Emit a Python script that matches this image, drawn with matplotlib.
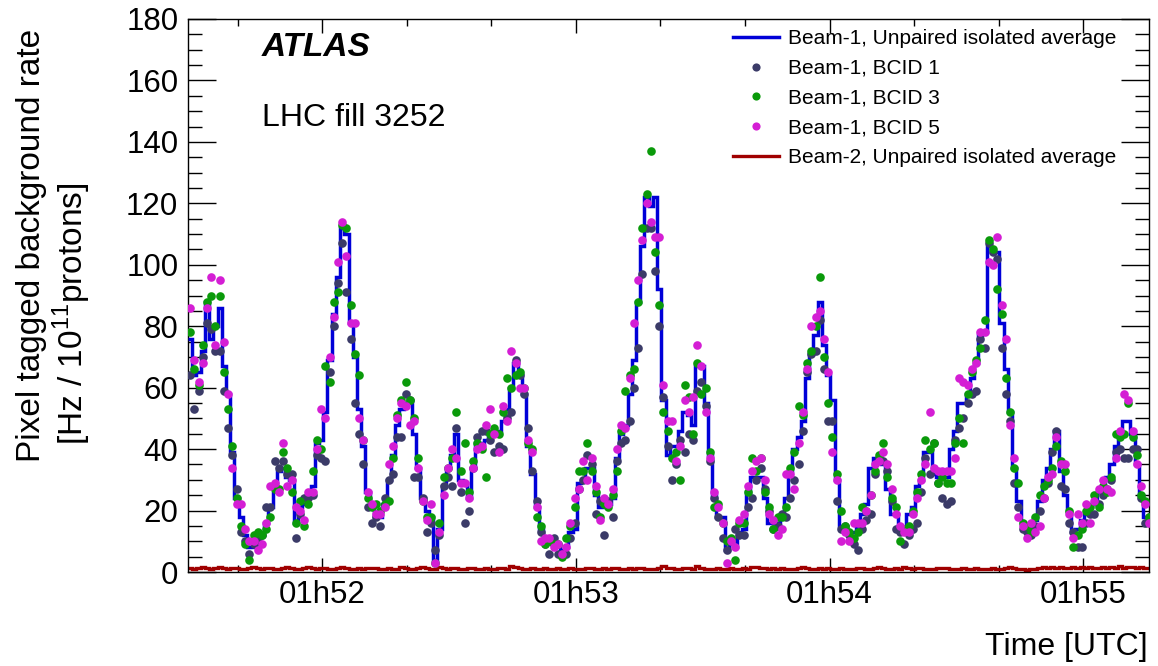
import numpy as np
import matplotlib
matplotlib.use('Agg')
import matplotlib.pyplot as plt
from matplotlib.ticker import MultipleLocator

plt.rcParams['font.family'] = ['Liberation Sans', 'DejaVu Sans']
plt.rcParams['mathtext.fontset'] = 'custom'
plt.rcParams['mathtext.rm'] = 'Liberation Sans'

# time of first bin edge, seconds after 01:50:00, 1 s bins
t_start = 88.2
x_range = (88.2, 315.6)
major_ticks = [120, 180, 240, 300]
tick_labels = ['01h52', '01h53', '01h54', '01h55']

# Beam-1, unpaired isolated average (step histogram)
beam1_avg = [
    76, 64, 65, 72, 88, 76, 80, 86, 67, 58,
    39, 24, 18, 12, 8, 8, 9, 12, 16, 21,
    27, 33, 34, 31, 30, 16, 21, 22, 25, 28,
    42, 43, 52, 69, 84, 96, 112, 110, 81, 70,
    53, 41, 26, 21, 18, 18, 22, 30, 38, 48,
    53, 55, 55, 45, 34, 24, 20, 18, 4, 14,
    28, 34, 38, 45, 30, 29, 24, 34, 42, 42,
    43, 44, 45, 46, 49, 53, 60, 68, 64, 58,
    41, 32, 21, 14, 10, 10, 9, 9, 7, 8,
    13, 14, 29, 30, 34, 34, 25, 21, 21, 22,
    24, 37, 45, 48, 58, 69, 88, 106, 122, 119,
    122, 92, 56, 38, 41, 41, 46, 52, 51, 48,
    67, 67, 55, 38, 25, 18, 18, 7, 11, 8,
    13, 14, 26, 31, 31, 31, 24, 16, 16, 16,
    19, 24, 33, 40, 44, 49, 63, 71, 77, 88,
    74, 64, 56, 30, 15, 15, 13, 13, 15, 19,
    22, 34, 37, 37, 35, 27, 19, 19, 14, 13,
    19, 21, 28, 30, 39, 39, 32, 31, 33, 31,
    40, 46, 55, 55, 58, 63, 68, 77, 78, 106,
    104, 104, 81, 66, 52, 34, 23, 16, 14, 14,
    17, 23, 30, 34, 40, 46, 33, 25, 20, 13,
    14, 17, 19, 22, 22, 26, 28, 31, 35, 41,
    45, 49, 49, 45, 35, 25, 18, 18,
]

# Beam-1 BCID 1
bcid1 = [
    64, 53, 59, 70, 81, 79, 72, 72, 59, 47,
    38, 27, 13, 10, 6, 9, 11, 12, 21, 21,
    36, 34, 36, 32, 32, 11, 19, 24, 24, 25,
    38, 37, 36, 65, 80, 94, 107, 91, 76, 55,
    45, 35, 21, 16, 18, 15, 24, 30, 32, 44,
    44, 58, 56, 31, 31, 24, 13, 16, 7, 12,
    28, 31, 28, 47, 26, 16, 20, 34, 44, 46,
    46, 43, 39, 41, 40, 50, 52, 69, 64, 58,
    47, 33, 23, 13, 9, 6, 11, 6, 6, 6,
    11, 16, 27, 30, 38, 35, 19, 23, 12, 23,
    18, 36, 42, 43, 49, 60, 73, 97, 112, 112,
    98, 80, 57, 41, 30, 35, 43, 39, 45, 43,
    59, 62, 54, 36, 24, 18, 11, 7, 10, 14,
    12, 12, 21, 24, 30, 34, 27, 20, 14, 15,
    19, 18, 24, 30, 35, 46, 65, 71, 72, 82,
    66, 49, 49, 23, 14, 15, 12, 9, 7, 14,
    17, 19, 32, 37, 36, 33, 23, 14, 13, 9,
    12, 14, 16, 26, 37, 32, 42, 29, 24, 22,
    23, 43, 47, 50, 55, 58, 59, 76, 73, 107,
    104, 102, 73, 58, 49, 29, 21, 14, 13, 12,
    15, 20, 24, 29, 39, 46, 28, 27, 16, 13,
    8, 8, 16, 19, 19, 22, 25, 27, 30, 39,
    40, 37, 37, 40, 40, 24, 16, 18,
]

# Beam-1 BCID 3
bcid3 = [
    78, 66, 61, 74, 88, 90, 80, 90, 65, 53,
    41, 24, 15, 9, 4, 12, 13, 12, 14, 18,
    27, 27, 39, 34, 26, 16, 23, 15, 22, 33,
    43, 40, 67, 62, 88, 91, 113, 112, 87, 71,
    64, 43, 24, 21, 22, 20, 22, 23, 37, 51,
    56, 62, 56, 50, 37, 23, 18, 18, 3, 16,
    31, 34, 37, 52, 33, 42, 26, 36, 42, 40,
    31, 45, 47, 45, 52, 63, 60, 64, 65, 60,
    42, 40, 18, 15, 9, 10, 9, 9, 5, 11,
    15, 21, 33, 33, 42, 33, 26, 18, 22, 21,
    25, 33, 46, 59, 64, 66, 88, 112, 123, 137,
    104, 87, 52, 46, 37, 39, 30, 61, 57, 45,
    68, 58, 60, 39, 21, 22, 16, 10, 11, 4,
    16, 16, 26, 37, 33, 37, 26, 21, 14, 18,
    18, 21, 34, 39, 54, 51, 68, 72, 80, 96,
    70, 55, 44, 32, 20, 15, 13, 11, 13, 21,
    20, 25, 33, 38, 42, 31, 24, 21, 10, 14,
    15, 20, 26, 32, 43, 40, 42, 29, 31, 29,
    29, 42, 50, 42, 58, 65, 69, 73, 82, 108,
    105, 92, 84, 63, 52, 34, 29, 16, 15, 13,
    18, 25, 28, 30, 34, 41, 36, 33, 20, 8,
    12, 14, 20, 21, 25, 21, 28, 26, 31, 45,
    44, 45, 55, 44, 38, 25, 23, 18,
]

# Beam-1 BCID 5
bcid5 = [
    86, 69, 62, 68, 86, 96, 74, 95, 75, 58,
    34, 22, 22, 14, 10, 10, 7, 9, 16, 28,
    29, 26, 42, 28, 30, 21, 20, 17, 26, 26,
    40, 53, 50, 70, 83, 101, 114, 103, 81, 81,
    50, 43, 26, 22, 19, 19, 21, 35, 41, 50,
    55, 54, 48, 49, 34, 23, 17, 22, 3, 13,
    25, 34, 40, 37, 29, 29, 24, 34, 40, 41,
    48, 53, 45, 39, 54, 49, 72, 68, 60, 60,
    43, 39, 21, 10, 11, 11, 8, 9, 6, 8,
    16, 24, 27, 36, 30, 37, 28, 17, 24, 22,
    27, 40, 48, 47, 63, 81, 95, 108, 120, 114,
    109, 109, 61, 49, 49, 36, 41, 56, 52, 57,
    74, 67, 52, 37, 26, 21, 16, 3, 10, 8,
    17, 19, 28, 33, 36, 37, 30, 19, 17, 12,
    14, 32, 32, 27, 42, 52, 66, 80, 83, 85,
    76, 65, 39, 30, 10, 13, 10, 16, 16, 16,
    20, 25, 35, 36, 39, 35, 27, 19, 15, 13,
    13, 19, 24, 30, 35, 52, 34, 33, 33, 33,
    33, 37, 63, 62, 61, 66, 68, 78, 78, 101,
    100, 109, 87, 76, 48, 37, 18, 15, 11, 16,
    13, 15, 24, 31, 32, 44, 35, 35, 19, 11,
    19, 16, 22, 16, 23, 27, 30, 27, 26, 37,
    46, 58, 56, 46, 35, 28, 22, 16,
]

# Beam-2, unpaired isolated average
beam2_avg = [
    1.3, 1.1, 1.2, 1.5, 1.2, 1.0, 1.3, 1.6, 1.2, 1.1,
    1.4, 1.2, 1.0, 1.1, 1.3, 1.7, 1.3, 1.1, 1.2, 1.4,
    1.1, 1.0, 1.2, 1.6, 1.3, 1.1, 1.0, 1.2, 1.5, 1.3,
    1.1, 1.2, 1.4, 1.1, 1.0, 1.3, 1.6, 1.2, 1.1, 1.0,
    1.2, 1.1, 1.3, 1.4, 1.2, 1.0, 1.1, 1.2, 1.0, 1.1,
    1.5, 1.3, 1.1, 1.0, 1.2, 1.7, 1.3, 1.0, 1.1, 1.6,
    1.2, 1.1, 1.3, 1.2, 1.0, 1.1, 1.4, 1.2, 1.1, 1.0,
    1.2, 1.1, 1.0, 1.3, 1.2, 1.1, 1.8, 1.5, 1.2, 1.0,
    1.1, 1.2, 1.0, 1.1, 1.3, 1.1, 1.0, 1.2, 1.1, 1.0,
    1.2, 1.1, 1.0, 1.1, 1.3, 1.2, 1.1, 1.0, 1.2, 1.1,
    1.4, 1.2, 1.1, 1.0, 1.2, 1.1, 1.3, 1.2, 1.1, 1.0,
    1.1, 1.2, 2.0, 1.4, 1.2, 1.1, 1.0, 1.3, 1.2, 1.1,
    1.8, 1.3, 1.1, 1.0, 1.1, 1.2, 1.0, 1.1, 1.2, 1.1,
    1.0, 1.2, 1.1, 1.6, 1.7, 1.3, 1.2, 1.1, 1.3, 1.1,
    1.2, 1.1, 1.0, 1.1, 1.2, 1.5, 1.3, 1.1, 1.0, 1.2,
    1.1, 1.3, 1.1, 1.0, 1.2, 1.1, 1.0, 1.1, 1.3, 1.2,
    1.1, 1.0, 1.2, 1.7, 1.2, 1.1, 1.0, 1.3, 1.1, 1.6,
    1.2, 1.1, 1.3, 1.2, 1.1, 1.0, 1.1, 1.2, 1.4, 1.2,
    1.1, 1.0, 1.1, 1.2, 1.0, 1.1, 1.2, 1.1, 1.0, 1.1,
    1.2, 1.1, 1.0, 1.3, 1.5, 1.2, 1.1, 1.0, 0.8, 0.9,
    1.1, 1.3, 1.6, 1.2, 1.5, 1.3, 1.6, 1.2, 1.4, 1.7,
    1.3, 1.5, 1.2, 1.6, 1.3, 1.4, 1.7, 1.2, 1.6, 1.3,
    1.8, 1.2, 1.5, 1.7, 1.3, 1.6, 1.2, 1.4,
]

edges = t_start + np.arange(len(beam1_avg) + 1)
centers = edges[:-1] + 0.5

W, H = 1158, 666
fig = plt.figure(figsize=(W / 100, H / 100), dpi=100)
ax = fig.add_axes([188 / W, 1 - 572 / H, (1149 - 188) / W, (572 - 19) / H])

h_b2 = ax.stairs(beam2_avg, edges, color='#a00000', lw=2.4, baseline=None, zorder=2)
h_b1 = ax.stairs(beam1_avg, edges, color='#0000d8', lw=2.5, baseline=None, zorder=3)
h_1, = ax.plot(centers, bcid1, 'o', color='#3b3b68', ms=6.2, mec='none', zorder=4)
h_3, = ax.plot(centers, bcid3, 'o', color='#0a9a0a', ms=6.2, mec='none', zorder=5)
h_5, = ax.plot(centers, bcid5, 'o', color='#d41ed4', ms=6.2, mec='none', zorder=6)

ax.set_xlim(*x_range)
ax.set_ylim(0, 180)
ax.set_xticks(major_ticks)
ax.set_xticklabels(tick_labels)
ax.xaxis.set_minor_locator(MultipleLocator(20))
ax.yaxis.set_major_locator(MultipleLocator(20))
ax.yaxis.set_minor_locator(MultipleLocator(5))
ax.tick_params(which='both', direction='in', top=True, right=True, width=1.0,
               labelsize=22.5, color='black')
ax.tick_params(axis='y', which='major', length=20, pad=7)
ax.tick_params(axis='y', which='minor', length=10)
ax.tick_params(axis='x', which='major', length=10, pad=6)
ax.tick_params(axis='x', which='minor', length=5)
for s in ax.spines.values():
    s.set_linewidth(1.0)

# axis titles
fig.text(32 / W, 1 - 245 / H, 'Pixel tagged background rate', rotation=90,
         ha='center', va='center', fontsize=24)
fig.text(72 / W, 1 - 314 / H, r'[Hz / 10$^{11}$protons]', rotation=90,
         ha='center', va='center', fontsize=24)
fig.text(1148 / W, 1 - 647 / H, 'Time [UTC]', ha='right', va='center', fontsize=23)

fig.text(262 / W, 1 - 47 / H, 'ATLAS', ha='left', va='center', fontsize=24,
         fontweight='bold', fontstyle='italic')
fig.text(262 / W, 1 - 118 / H, 'LHC fill 3252', ha='left', va='center', fontsize=23)

ax.legend([h_b1, h_1, h_3, h_5, h_b2],
          ['Beam-1, Unpaired isolated average', 'Beam-1, BCID 1', 'Beam-1, BCID 3',
           'Beam-1, BCID 5', 'Beam-2, Unpaired isolated average'],
          loc='upper left', bbox_to_anchor=(733 / W, 1 - 29 / H),
          bbox_transform=fig.transFigure, frameon=False, fontsize=15,
          handlelength=2.2, handletextpad=0.45, labelspacing=0.52,
          borderpad=0, borderaxespad=0, markerscale=0.95)

fig.savefig('out.png', dpi=100)
